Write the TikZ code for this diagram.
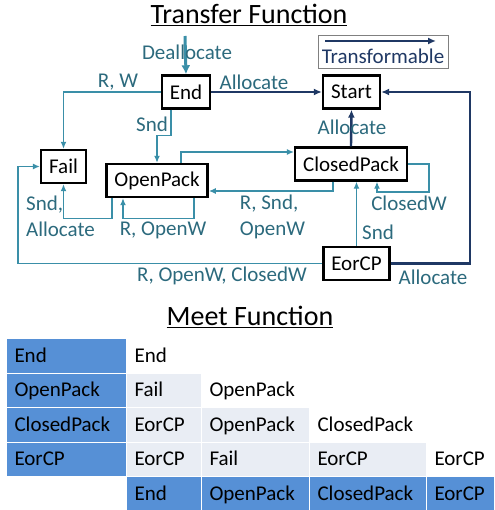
\documentclass[tikz,border=0pt]{standalone}
\usepackage{fontspec}
\setmainfont{Carlito}
\usepackage{xcolor}
\usetikzlibrary{arrows.meta,positioning,calc}

\definecolor{tealline}{RGB}{58,143,168}
\definecolor{tealtext}{RGB}{44,106,125}
\definecolor{navyline}{RGB}{31,56,100}
\definecolor{hdrblue}{RGB}{86,144,214}
\definecolor{litegray}{RGB}{233,237,244}

\begin{document}
\begin{tikzpicture}[x=1pt, y=-1pt,
    state/.style={draw, line width=2.4pt, inner xsep=8pt, minimum height=33pt, font=\fontsize{21}{24}\selectfont},
    lab/.style={text=tealtext, align=left, inner sep=0pt, font=\fontsize{21}{26}\selectfont},
    flow/.style={-{Latex[length=7pt,width=6pt]}, tealline, line width=1.3pt},
    trans/.style={-{Latex[length=8pt,width=7pt]}, navyline, line width=2.4pt},
    title/.style={font=\fontsize{28}{32}\selectfont},
    keybox/.style={draw=gray, line width=1.2pt, minimum width=130pt, minimum height=33pt},
    cell/.style={anchor=north west, minimum height=34.5pt, inner xsep=8pt, inner ysep=0pt, text height=14pt, text depth=1pt, align=left, draw=white, line width=1pt, font=\fontsize{21}{24}\selectfont},
    hdr/.style={cell, fill=hdrblue},
    lite/.style={cell, fill=litegray},
    blank/.style={cell},
    c0/.style={text width=104pt}, c1/.style={text width=59pt}, c2/.style={text width=92pt},
    c3/.style={text width=101pt}, c4/.style={text width=52pt}
  ]
    \useasboundingbox (0,0) rectangle (494,510);

    % transfer function
    \node[title] (ttl) at (249,15) {\underline{Transfer Function}};
    \node[state] (End) at (186,92) {End};
    \node[state] (Start) at (351.5,92) {Start};
    \node[state] (Fail) at (63.5,166.5) {Fail};
    \node[state] (OpenPack) at (157,180.5) {OpenPack};
    \node[state] (ClosedPack) at (351,164) {ClosedPack};
    \node[state] (EorCP) at (356.5,263.5) {EorCP};
    \coordinate (entry) at (185,36);

    \node[keybox] (key) at (383.5,52) {};
    \coordinate (k0) at (325,41);
    \coordinate (k1) at (436,41);
    \draw[trans, line width=2pt] (k0) -- (k1);
    \node[lab, text=navyline] (keylab) at (383,56) {Transformable};

    \draw[flow, line width=3pt, -{Latex[length=9pt,width=9pt]}] (entry) -- (End.north);
    \draw[trans] (End) -- (Start);
    \draw[trans] (ClosedPack.north) -- (Start.south);
    \draw[trans] (EorCP.east) -| ($(Start.east)+(89,0)$) -- (Start.east);
    \draw[flow] (End.west) -| (Fail.north);
    \draw[flow] ($(End.south)+(-15,0)$) -- ++(0,26) -| (OpenPack.north);
    \draw[flow] ($(OpenPack.north)+(24,0)$) |- ($(ClosedPack.west)+(0,-12)$);
    \draw[flow] ($(ClosedPack.south)+(-18,0)$) |- ($(OpenPack.east)+(0,10.5)$);
    \draw[flow] (ClosedPack.east) -| ++(21,28) -| ($(ClosedPack.south)+(26,0)$);
    \draw[flow] ($(OpenPack.south)+(37,0)$) -- ++(0,20) -| ($(OpenPack.south)+(-34,0)$);
    \draw[flow] ($(OpenPack.south)+(-45,0)$) -- ++(0,20) -| (Fail.south);
    \draw[flow] (EorCP.west) -| ($(Fail.west)+(-22,0)$) -- (Fail.west);
    \draw[flow] (EorCP.north) -- (EorCP.north |- ClosedPack.south);

    \node[lab] (lDealloc) at (187,52) {Deallocate};
    \node[lab] (lAllocA) at (254,82) {Allocate};
    \node[lab] (lRW) at (118,82) {R, W};
    \node[lab] (lSnd) at (152,124) {Snd};
    \node[lab] (lAllocB) at (352,127) {Allocate};
    \node[lab] (lSndAlloc) at (60.5,216) {Snd,\\Allocate};
    \node[lab] (lROpenW) at (163,230) {R, OpenW};
    \node[lab] (lRSndOpenW) at (272.5,216.5) {R, Snd,\\OpenW};
    \node[lab] (lClosedW) at (409,203) {ClosedW};
    \node[lab] (lSndB) at (378,232) {Snd};
    \node[lab] (lROCW) at (222,276) {R, OpenW, ClosedW};
    \node[lab] (lAllocC) at (433,277) {Allocate};

    % meet function
    \node[title] (mttl) at (250,317) {\underline{Meet Function}};
    \node[hdr, c0] (h1) at (6,338) {End};
    \node[hdr, c0] (h2) at (6,372.5) {OpenPack};
    \node[hdr, c0] (h3) at (6,407) {ClosedPack};
    \node[hdr, c0] (h4) at (6,441.5) {EorCP};
    \node[blank, c1] (m11) at (126,338) {End};
    \node[lite, c1] (m21) at (126,372.5) {Fail};
    \node[blank, c2] (m22) at (201,372.5) {OpenPack};
    \node[lite, c1] (m31) at (126,407) {EorCP};
    \node[lite, c2] (m32) at (201,407) {OpenPack};
    \node[blank, c3] (m33) at (309,407) {ClosedPack};
    \node[lite, c1] (m41) at (126,441.5) {EorCP};
    \node[lite, c2] (m42) at (201,441.5) {Fail};
    \node[lite, c3] (m43) at (309,441.5) {EorCP};
    \node[blank, c4] (m44) at (426,441.5) {EorCP};
    \node[hdr, c1] (f1) at (126,476) {End};
    \node[hdr, c2] (f2) at (201,476) {OpenPack};
    \node[hdr, c3] (f3) at (309,476) {ClosedPack};
    \node[hdr, c4] (f4) at (426,476) {EorCP};
\end{tikzpicture}
\end{document}
